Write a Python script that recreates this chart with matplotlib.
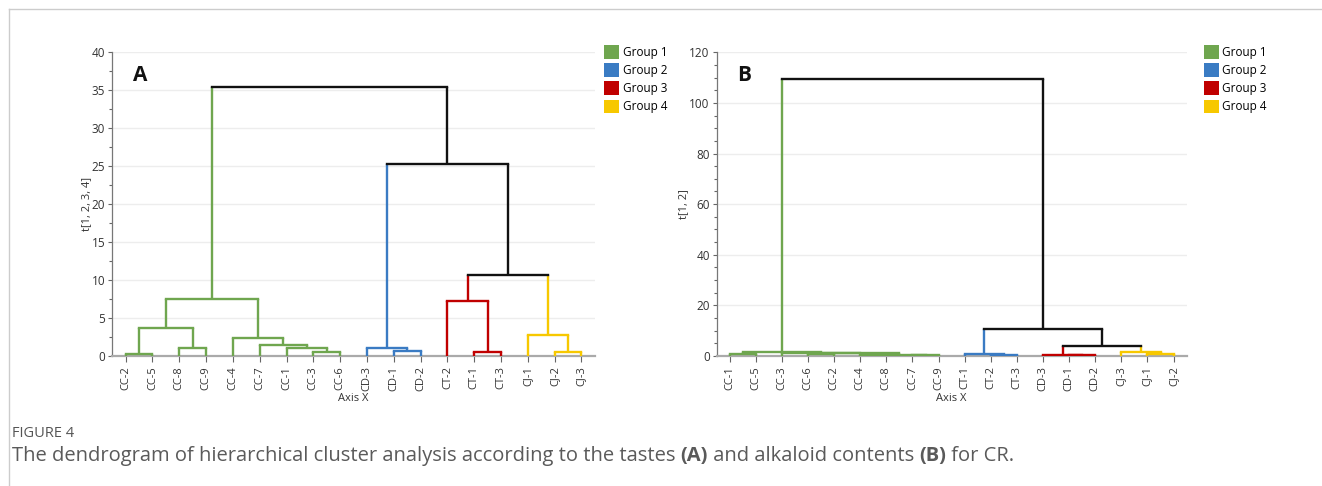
import matplotlib
matplotlib.use("Agg")
import matplotlib.pyplot as plt
from matplotlib.patches import Patch
from matplotlib.lines import Line2D
from matplotlib.ticker import MultipleLocator

plt.rcParams['font.family'] = ['Open Sans', 'DejaVu Sans']

group_names = ['Group 1', 'Group 2', 'Group 3', 'Group 4']
group_colors = ['#6FA64F', '#3A7BC3', '#C00000', '#F7C800']
link_black = '#111111'

# --- A: tastes -------------------------------------------------
leaves_a = ['CC-2', 'CC-5', 'CC-8', 'CC-9', 'CC-4', 'CC-7', 'CC-1', 'CC-3', 'CC-6',
            'CD-3', 'CD-1', 'CD-2', 'CT-2', 'CT-1', 'CT-3', 'CJ-1', 'CJ-2', 'CJ-3']
leaf_group_a = [0] * 9 + [1] * 3 + [2] * 3 + [3] * 3
# (name, left child, right child, height, group index or None for black)
merges_a = [
    ('a1', 'CC-2', 'CC-5', 0.3, 0),
    ('a2', 'CC-8', 'CC-9', 1.0, 0),
    ('a3', 'a1', 'a2', 3.7, 0),
    ('a4', 'CC-3', 'CC-6', 0.55, 0),
    ('a5', 'CC-1', 'a4', 1.05, 0),
    ('a6', 'CC-7', 'a5', 1.45, 0),
    ('a7', 'CC-4', 'a6', 2.35, 0),
    ('a8', 'a3', 'a7', 7.5, 0),
    ('b1', 'CD-1', 'CD-2', 0.7, 1),
    ('b2', 'CD-3', 'b1', 1.0, 1),
    ('c1', 'CT-1', 'CT-3', 0.55, 2),
    ('c2', 'CT-2', 'c1', 7.3, 2),
    ('d1', 'CJ-2', 'CJ-3', 0.55, 3),
    ('d2', 'CJ-1', 'd1', 2.7, 3),
    ('e1', 'c2', 'd2', 10.7, None),
    ('e2', 'b2', 'e1', 25.3, None),
    ('e3', 'a8', 'e2', 35.4, None),
]

# --- B: alkaloid contents --------------------------------------
leaves_b = ['CC-1', 'CC-5', 'CC-3', 'CC-6', 'CC-2', 'CC-4', 'CC-8', 'CC-7', 'CC-9',
            'CT-1', 'CT-2', 'CT-3', 'CD-3', 'CD-1', 'CD-2', 'CJ-3', 'CJ-1', 'CJ-2']
leaf_group_b = [0] * 9 + [1] * 3 + [2] * 3 + [3] * 3
merges_b = [
    ('a1', 'CC-1', 'CC-5', 0.7, 0),
    ('a2', 'CC-7', 'CC-9', 0.3, 0),
    ('a3', 'CC-4', 'CC-8', 0.45, 0),
    ('a4', 'a3', 'a2', 0.55, 0),
    ('a5', 'CC-6', 'CC-2', 0.8, 0),
    ('a6', 'a5', 'a4', 1.0, 0),
    ('a7', 'CC-3', 'a6', 1.2, 0),
    ('a8', 'a1', 'a7', 1.4, 0),
    ('b1', 'CT-2', 'CT-3', 0.45, 1),
    ('b2', 'CT-1', 'b1', 0.9, 1),
    ('c1', 'CD-1', 'CD-2', 0.3, 2),
    ('c2', 'CD-3', 'c1', 0.5, 2),
    ('d1', 'CJ-1', 'CJ-2', 0.9, 3),
    ('d2', 'CJ-3', 'd1', 1.45, 3),
    ('e1', 'c2', 'd2', 3.9, None),
    ('e2', 'b2', 'e1', 10.5, None),
    ('e3', 'a8', 'e2', 109.3, None),
]


def draw_dendrogram(ax, leaves, leaf_groups, merges):
    xpos = {name: i for i, name in enumerate(leaves)}
    height = {name: 0.0 for name in leaves}
    color = {name: group_colors[g] for name, g in zip(leaves, leaf_groups)}
    for name, left, right, h, g in merges:
        c = link_black if g is None else group_colors[g]
        for child in (left, right):
            ax.plot([xpos[child], xpos[child]], [height[child], h],
                    color=color[child], lw=1.7, solid_capstyle='butt', zorder=3)
        ax.plot([xpos[left], xpos[right]], [h, h], color=c, lw=1.7,
                solid_capstyle='projecting', zorder=3)
        xpos[name] = (xpos[left] + xpos[right]) / 2
        height[name] = h
        color[name] = c


def style_axes(ax, leaves, ymax, major, minor, ylabel, letter, legend_x):
    ax.set_xlim(-0.5, 17.5)
    ax.set_ylim(0, ymax)
    ax.set_xticks(range(len(leaves)))
    ax.set_xticklabels(leaves, rotation=90, fontsize=8, color='#333333')
    ax.yaxis.set_major_locator(MultipleLocator(major))
    ax.yaxis.set_minor_locator(MultipleLocator(minor))
    ax.tick_params(axis='y', labelsize=8.5, colors='#666666', labelcolor='#333333',
                   length=3, width=0.8, pad=2)
    ax.tick_params(axis='y', which='minor', length=2, width=0.8, colors='#666666')
    ax.tick_params(axis='x', length=4, width=0.8, colors='#666666', labelcolor='#333333')
    ax.grid(axis='y', color='#EDEDED', lw=1)
    ax.set_axisbelow(True)
    for s in ('top', 'right'):
        ax.spines[s].set_visible(False)
    ax.spines['left'].set_color('#777777')
    ax.spines['left'].set_linewidth(0.9)
    ax.spines['bottom'].set_color('#AAAAAA')
    ax.spines['bottom'].set_linewidth(1.6)
    ax.set_xlabel('Axis X', fontsize=8, color='#333333', labelpad=1)
    ax.set_ylabel(ylabel, fontsize=8, color='#333333', labelpad=0)
    ax.text(0.043, 0.905, letter, transform=ax.transAxes, fontsize=15,
            fontweight='bold', color='#111111', va='baseline', ha='left')
    handles = [Patch(facecolor=c, edgecolor='none', label=n)
               for n, c in zip(group_names, group_colors)]
    ax.legend(handles=handles, loc='upper left', bbox_to_anchor=(legend_x, 1.04),
              frameon=False, fontsize=8.5, handlelength=1.25, handleheight=1.4,
              handletextpad=0.3, labelspacing=0.38, borderaxespad=0)


fig = plt.figure(figsize=(13.22, 4.86), dpi=100)
ax_a = fig.add_axes([0.0849, 0.2675, 0.3651, 0.6249])
ax_b = fig.add_axes([0.5421, 0.2675, 0.3555, 0.6249])

draw_dendrogram(ax_a, leaves_a, leaf_group_a, merges_a)
draw_dendrogram(ax_b, leaves_b, leaf_group_b, merges_b)
style_axes(ax_a, leaves_a, 40, 5, 2.5, 't[1, 2, 3, 4]', 'A', 1.01)
style_axes(ax_b, leaves_b, 120, 20, 5, 't[1, 2]', 'B', 1.027)

# page frame
W, H = 1322, 486
fig.add_artist(Line2D([9 / W, 1], [1 - 9 / H, 1 - 9 / H], color='#CCCCCC', lw=1))
fig.add_artist(Line2D([9 / W, 9 / W], [0, 1 - 9 / H], color='#CCCCCC', lw=1))

# caption
fig.text(12 / W, 1 - 437 / H, 'FIGURE 4', fontsize=10.5, color='#555555',
         va='baseline')
pieces = [('The dendrogram of hierarchical cluster analysis according to the tastes ', 'normal'),
          ('(A)', 'bold'),
          (' and alkaloid contents ', 'normal'),
          ('(B)', 'bold'),
          (' for CR.', 'normal')]
renderer = fig.canvas.get_renderer()
x = 12 / W
for txt, weight in pieces:
    t = fig.text(x, 1 - 461 / H, txt, fontsize=14.5, color='#5A5A5A',
                 fontweight=weight, va='baseline')
    bb = t.get_window_extent(renderer)
    x += bb.width / W

fig.savefig('out.png', dpi=100)
